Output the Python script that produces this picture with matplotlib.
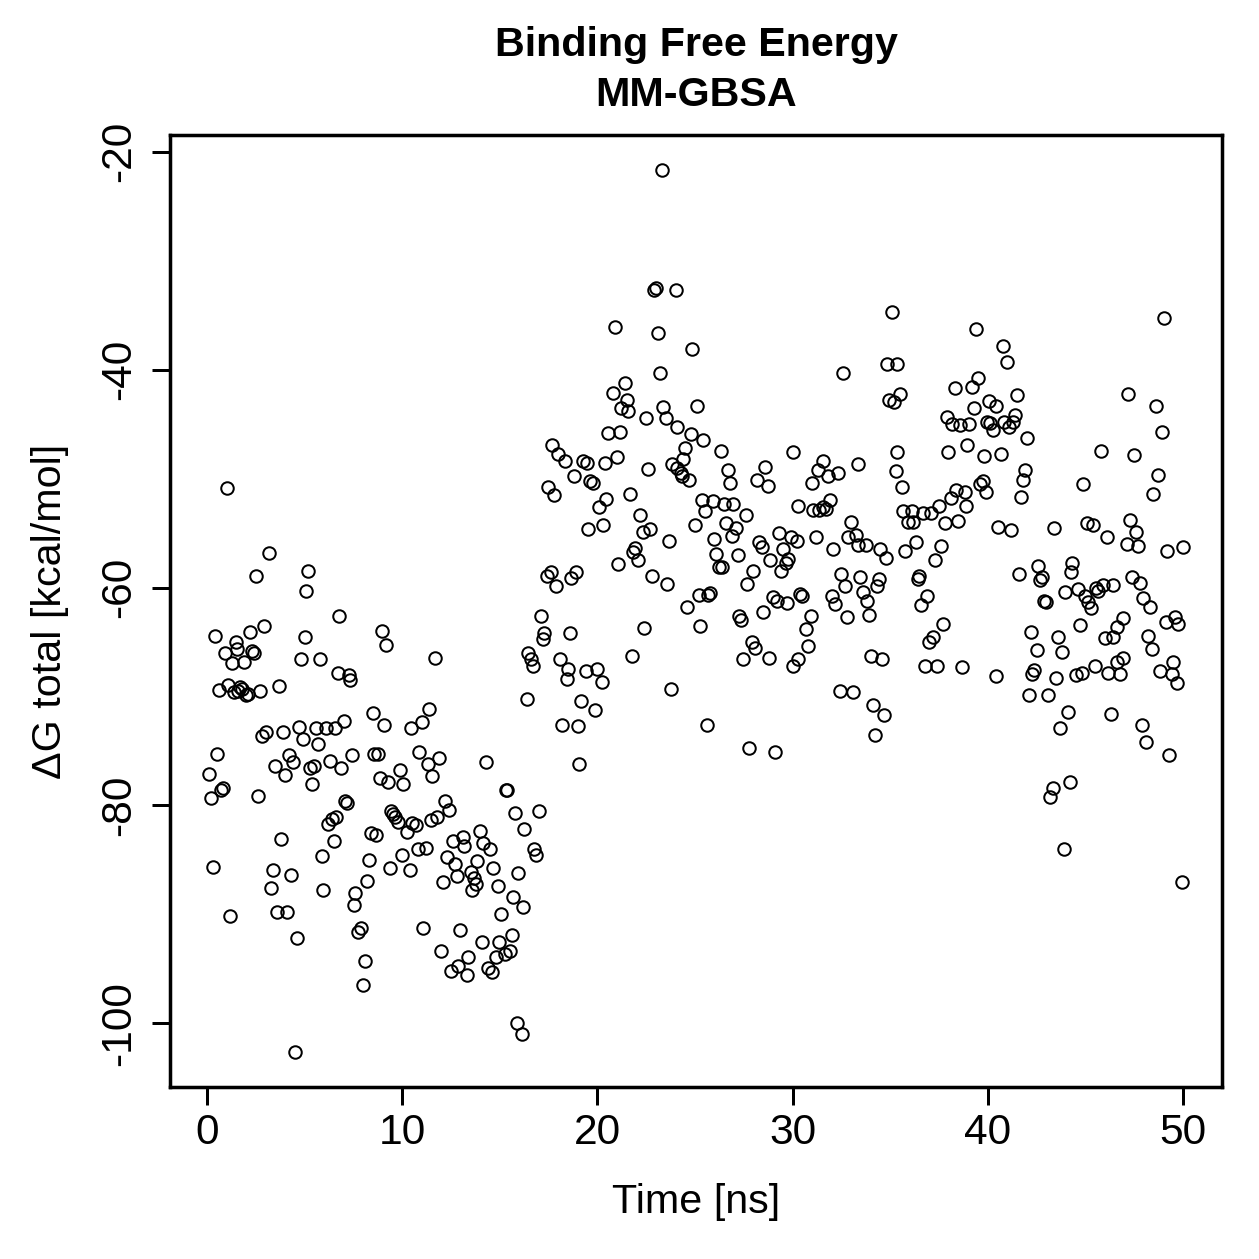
import matplotlib
matplotlib.use("Agg")
import matplotlib.pyplot as plt

plt.rcParams['font.family'] = ['Liberation Sans', 'DejaVu Sans']

# ---------------- data ----------------
time_ns = [
    0.1, 0.2, 0.3, 0.4, 0.5, 0.6, 0.7, 0.8, 0.9, 1.0, 1.1, 1.2, 1.3, 1.4, 1.5, 1.55, 1.6, 1.7, 1.8, 1.9,
    2.0, 2.1, 2.2, 2.3, 2.4, 2.5, 2.6, 2.7, 2.8, 2.9, 3.0, 3.2, 3.3, 3.4, 3.5, 3.6, 3.7, 3.8, 3.9, 4.0,
    4.1, 4.2, 4.3, 4.4, 4.5, 4.6, 4.7, 4.8, 4.9, 5.0,
    5.05, 5.15, 5.3, 5.4, 5.5, 5.6, 5.7, 5.8, 5.9, 5.95, 6.1, 6.2, 6.3, 6.4, 6.5, 6.55, 6.6, 6.7, 6.75, 6.85,
    7.0, 7.05, 7.15, 7.25, 7.35, 7.45, 7.55, 7.6, 7.75, 7.9, 8.0, 8.1, 8.2, 8.3, 8.4, 8.5, 8.55, 8.65, 8.75, 8.85,
    8.95, 9.05, 9.15, 9.25, 9.35, 9.45, 9.55, 9.65, 9.8, 9.9, 10.0,
    10.05, 10.25, 10.4, 10.45, 10.5, 10.7, 10.8, 10.85, 11.0, 11.05, 11.2, 11.3, 11.35, 11.45, 11.55, 11.7, 11.8, 11.9, 12.0, 12.1,
    12.2, 12.3, 12.4, 12.5, 12.6, 12.7, 12.8, 12.85, 12.95, 13.1, 13.15, 13.3, 13.35, 13.5, 13.55, 13.7, 13.8, 13.85, 14.0, 14.1,
    14.15, 14.3, 14.4, 14.5, 14.6, 14.65, 14.8, 14.9, 14.95,
    15.05, 15.25, 15.3, 15.35, 15.5, 15.6, 15.65, 15.8, 15.9, 15.95, 16.15, 16.2, 16.25, 16.4, 16.45, 16.6, 16.7, 16.75, 16.85, 17.0,
    17.1, 17.2, 17.25, 17.4, 17.45, 17.6, 17.65, 17.8, 17.9, 18.0, 18.1, 18.2, 18.35, 18.45, 18.5, 18.6, 18.65, 18.8, 18.9, 19.0,
    19.05, 19.15, 19.25, 19.4, 19.45, 19.5, 19.6, 19.75, 19.9, 20.0, 20.1, 20.25, 20.3, 20.4, 20.45, 20.55,
    20.8, 20.9, 21.0, 21.05, 21.15, 21.2, 21.4, 21.5, 21.55, 21.65, 21.75, 21.8, 21.9, 22.1, 22.2, 22.35, 22.4, 22.5, 22.6, 22.7,
    22.8, 22.9, 23.0, 23.1, 23.2, 23.3, 23.35, 23.5, 23.55, 23.65, 23.75, 23.8, 24.0, 24.1, 24.1, 24.3, 24.35, 24.4, 24.5, 24.6,
    24.7, 24.8, 24.85, 25.0, 25.1, 25.2, 25.25, 25.35, 25.4, 25.5, 25.65,
    25.6, 25.75, 25.9, 25.95, 26.1, 26.25, 26.35, 26.4, 26.5, 26.6, 26.7, 26.8, 26.9, 26.95, 27.1, 27.2, 27.25, 27.35, 27.45, 27.6,
    27.65, 27.75, 27.9, 27.95, 28.05, 28.2, 28.3, 28.45, 28.5, 28.6, 28.75, 28.8, 28.85, 29.0, 29.1, 29.2, 29.3, 29.4, 29.5, 29.65,
    29.7, 29.75, 29.9, 30.0, 30.0,
    30.2, 30.25, 30.3, 30.4, 30.5, 30.7, 30.8, 30.95, 31.0, 31.05, 31.2, 31.3, 31.35, 31.55, 31.55, 31.7, 31.8, 31.9, 32.0, 32.05,
    32.15, 32.3, 32.45, 32.5, 32.6, 32.7, 32.8, 32.85, 33.0, 33.1, 33.25, 33.35, 33.35, 33.45, 33.6, 33.75, 33.8, 33.9, 34.0, 34.1,
    34.2, 34.3, 34.4, 34.5, 34.6, 34.7, 34.8, 34.85, 34.95, 35.1, 35.2, 35.3, 35.35, 35.35, 35.5, 35.6, 35.65, 35.75,
    35.9, 36.1, 36.15, 36.3, 36.4, 36.45, 36.6, 36.7, 36.8, 36.9, 37.0, 37.1, 37.2, 37.3, 37.4, 37.5, 37.6, 37.7, 37.8, 37.9,
    37.95, 38.1, 38.15, 38.3, 38.35, 38.45, 38.55, 38.7, 38.85, 38.9, 38.95, 39.05, 39.2, 39.3, 39.4, 39.5, 39.6, 39.75, 39.8, 39.9,
    39.95, 40.05, 40.1, 40.25, 40.4, 40.4, 40.5,
    40.7, 40.8, 40.85, 41.0, 41.1, 41.2, 41.3, 41.4, 41.5, 41.6, 41.7, 41.8, 41.9, 42.0, 42.1, 42.2, 42.25, 42.35, 42.5, 42.55,
    42.65, 42.8, 42.9, 43.0, 43.1, 43.2, 43.35, 43.4, 43.5, 43.6, 43.7, 43.8, 43.9, 43.95, 44.1, 44.2, 44.25, 44.3, 44.5, 44.6,
    44.7, 44.8, 44.9, 45.0, 45.1, 45.15, 45.3,
    45.4, 45.5, 45.55, 45.65, 45.8, 45.9, 46.0, 46.1, 46.15, 46.3, 46.4, 46.4, 46.6, 46.6, 46.75, 46.9, 46.9, 47.15, 47.2, 47.3,
    47.4, 47.5, 47.6, 47.7, 47.8, 47.9, 47.95, 48.1, 48.2, 48.3, 48.4, 48.45, 48.6, 48.7, 48.8, 48.9, 49.0, 49.15, 49.2, 49.3,
    49.45, 49.5, 49.6, 49.7, 49.75, 49.95, 50.0,
]

dg_total = [
    -77.1, -79.3, -85.6, -64.4, -75.3, -69.4, -78.6, -78.4, -66.0, -50.9, -68.9, -90.1, -66.9, -69.6, -65.0, -65.6, -69.5, -69.1, -69.3, -66.8,
    -69.9, -69.8, -64.1, -65.8, -66.0, -58.9, -79.1, -69.5, -73.6, -63.5, -73.3, -56.8, -87.6, -85.9, -76.4, -89.8, -69.0, -83.1, -73.3, -77.2,
    -89.8, -75.4, -86.4, -76.0, -102.6, -92.2, -72.8, -66.6, -73.9, -64.5,
    -60.3, -58.5, -76.6, -78.0, -76.4, -72.9, -74.4, -66.6, -84.6, -87.8, -72.9, -81.7, -75.9, -81.2, -83.3, -72.9, -81.1, -67.8, -62.6, -76.6,
    -72.2, -79.6, -79.8, -68.0, -68.5, -75.4, -89.1, -88.0, -91.6, -91.2, -96.5, -94.3, -86.9, -85.0, -82.5, -71.5, -75.3, -82.7, -75.3, -77.5,
    -64.0, -72.6, -65.3, -77.8, -85.7, -80.5, -80.8, -81.1, -81.5, -76.7, -84.5,
    -78.0, -82.4, -85.9, -72.9, -81.6, -81.8, -84.0, -75.1, -72.3, -91.2, -83.9, -76.2, -71.1, -81.3, -77.3, -66.5, -81.1, -75.6, -93.4, -87.0,
    -79.6, -84.7, -80.4, -95.2, -83.3, -85.4, -86.5, -94.7, -91.4, -82.9, -83.7, -95.6, -93.9, -86.1, -87.8, -86.7, -87.2, -85.1, -82.3, -92.5,
    -83.4, -76.0, -94.9, -84.0, -95.3, -85.7, -93.9, -87.4, -92.5,
    -90.0, -93.6, -78.6, -78.6, -93.4, -91.9, -88.4, -80.7, -100.0, -86.2, -101.0, -89.3, -82.2, -70.2, -66.0, -66.6, -67.2, -84.0, -84.5, -80.5,
    -62.6, -64.7, -64.2, -58.9, -50.8, -58.6, -46.9, -51.5, -59.9, -47.7, -66.6, -72.6, -48.4, -68.4, -67.5, -64.2, -59.1, -49.8, -58.6, -72.7,
    -76.2, -70.4, -48.4, -67.7, -48.6, -54.6, -50.2, -50.4, -71.2, -67.5, -52.6, -68.7, -54.3, -48.6, -51.9, -45.8,
    -42.1, -36.1, -48.0, -57.8, -45.7, -43.5, -41.2, -42.8, -43.8, -51.4, -66.3, -56.7, -56.4, -57.5, -53.3, -54.9, -63.7, -44.4, -49.1, -54.6,
    -58.9, -32.7, -32.5, -36.6, -40.3, -21.7, -43.4, -44.4, -59.7, -55.7, -69.3, -48.7, -32.7, -45.3, -49.0, -49.5, -49.8, -48.2, -47.2, -61.8,
    -50.1, -45.9, -38.1, -54.3, -43.3, -60.7, -63.5, -52.0, -46.5, -53.0, -60.7,
    -72.6, -60.5, -52.1, -55.5, -56.9, -58.1, -47.5, -58.1, -52.3, -54.1, -49.2, -50.4, -55.3, -52.3, -54.5, -57.0, -62.6, -63.0, -66.6, -53.3,
    -59.7, -74.7, -65.0, -58.5, -65.5, -50.1, -55.8, -56.3, -62.2, -48.9, -50.7, -66.5, -57.5, -60.9, -75.1, -61.2, -55.0, -58.5, -56.5, -57.7,
    -61.4, -57.4, -55.4, -47.6, -67.2,
    -55.7, -52.5, -66.6, -60.6, -60.8, -63.8, -65.4, -62.6, -50.4, -52.9, -55.4, -49.2, -52.9, -48.4, -52.6, -52.8, -49.8, -52.0, -60.8, -56.5,
    -61.5, -49.5, -69.5, -58.8, -40.3, -59.9, -62.7, -55.4, -54.0, -69.6, -55.2, -48.7, -56.1, -59.0, -60.4, -56.1, -61.2, -62.5, -66.3, -70.8,
    -73.5, -59.9, -59.2, -56.5, -66.6, -71.7, -57.3, -39.5, -42.8, -34.7, -43.0, -49.3, -39.5, -47.6, -42.2, -50.8, -53.0, -56.6,
    -54.0, -53.0, -54.0, -55.8, -59.2, -58.9, -61.6, -53.2, -67.2, -60.8, -65.0, -53.2, -64.5, -57.5, -67.2, -52.5, -56.2, -63.3, -54.1, -44.3,
    -47.6, -51.8, -45.0, -41.7, -51.0, -53.9, -45.1, -67.3, -51.2, -52.5, -46.9, -45.0, -41.6, -43.5, -36.3, -40.8, -50.5, -50.2, -47.9, -51.2,
    -44.8, -42.9, -44.9, -45.5, -43.3, -68.1, -54.4,
    -47.7, -37.8, -44.8, -39.3, -45.3, -54.7, -44.8, -44.2, -42.3, -58.8, -51.7, -50.1, -49.2, -46.3, -69.9, -64.1, -67.9, -67.6, -65.7, -58.0,
    -59.3, -59.0, -61.2, -61.3, -69.9, -79.2, -78.4, -54.5, -68.3, -64.5, -72.9, -65.9, -84.0, -60.4, -71.4, -77.8, -58.6, -57.7, -68.0, -60.1,
    -63.4, -67.8, -50.5, -60.8, -54.1, -61.3, -61.9,
    -54.3, -67.2, -60.0, -60.3, -47.5, -59.8, -64.6, -55.4, -67.8, -71.6, -59.8, -64.5, -63.6, -66.8, -67.9, -62.8, -66.5, -56.0, -42.2, -53.8,
    -59.0, -47.8, -54.9, -56.2, -59.6, -72.6, -61.0, -74.2, -64.4, -61.8, -65.6, -51.4, -43.3, -49.7, -67.7, -45.7, -35.3, -63.2, -56.6, -75.4,
    -67.9, -66.8, -62.7, -68.8, -63.3, -87.0, -56.3,
]

x_ticks = [0, 10, 20, 30, 40, 50]
y_ticks = [-100, -80, -60, -40, -20]
title_lines = ["Binding Free Energy", "MM-GBSA"]
x_label = "Time [ns]"
y_label = "\u0394G total [kcal/mol]"

# ---------------- figure ----------------
W = H = 1259
DPI = 180
fig = plt.figure(figsize=(W / DPI, H / DPI), dpi=DPI)
ax = fig.add_axes([170 / W, (H - 1087) / H, 1052 / W, 952 / H])

ax.plot(time_ns, dg_total, linestyle='none', marker='o', markersize=5.0,
        markerfacecolor='none', markeredgecolor='black', markeredgewidth=0.8)

# R-style 4% axis extension
xmin, xmax = min(time_ns), max(time_ns)
ymin, ymax = min(dg_total), max(dg_total)
ax.set_xlim(xmin - 0.04 * (xmax - xmin), xmax + 0.04 * (xmax - xmin))
ax.set_ylim(ymin - 0.04 * (ymax - ymin), ymax + 0.04 * (ymax - ymin))

ax.set_xticks(x_ticks)
ax.set_yticks(y_ticks)
ax.set_xticklabels([str(v) for v in x_ticks])
ax.set_yticklabels([str(v) for v in y_ticks])
ax.tick_params(direction='out', length=7.2, width=1.2, labelsize=17, colors='black')
ax.tick_params(axis='x', pad=3)
ax.tick_params(axis='y', pad=5)
for lab in ax.get_yticklabels():
    lab.set_rotation(90)
    lab.set_va('center')

for sp in ax.spines.values():
    sp.set_linewidth(1.4)
    sp.set_color('black')

cx = (170 + 1222) / 2 / W
fig.text(cx, 1 - 45 / H, title_lines[0], ha='center', va='center', fontsize=16.5, fontweight='bold')
fig.text(cx, 1 - 95 / H, title_lines[1], ha='center', va='center', fontsize=16.5, fontweight='bold')
fig.text(cx, 1 - 1202 / H, x_label, ha='center', va='center', fontsize=16.5)
fig.text(50 / W, 1 - 611 / H, y_label, ha='center', va='center', rotation=90, fontsize=16.5)

fig.savefig("out.png", dpi=DPI, facecolor='white')
